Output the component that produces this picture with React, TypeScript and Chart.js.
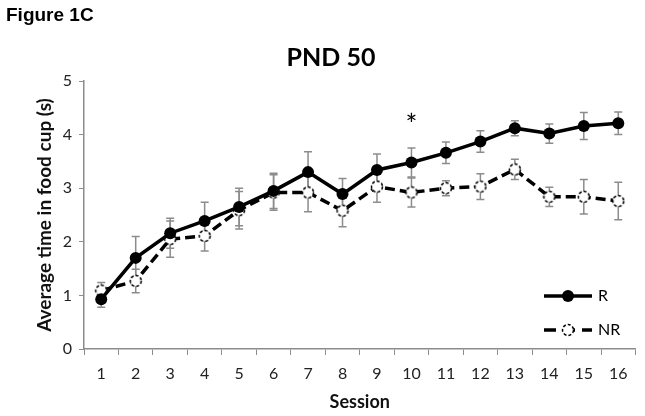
import React, { useEffect, useRef } from "react";
import { Chart, registerables } from "chart.js";

Chart.register(...registerables);

const sessions = ["1", "2", "3", "4", "5", "6", "7", "8", "9", "10", "11", "12", "13", "14", "15", "16"];
const rMean = [0.93, 1.7, 2.16, 2.39, 2.65, 2.95, 3.3, 2.89, 3.34, 3.48, 3.66, 3.87, 4.12, 4.02, 4.16, 4.21];
const rErr = [0.15, 0.4, 0.28, 0.35, 0.35, 0.33, 0.38, 0.29, 0.3, 0.27, 0.2, 0.2, 0.14, 0.18, 0.25, 0.21];
const nrMean = [1.09, 1.27, 2.05, 2.11, 2.59, 2.92, 2.92, 2.58, 3.03, 2.92, 3.0, 3.03, 3.35, 2.84, 2.84, 2.76];
const nrErr = [0.15, 0.22, 0.34, 0.28, 0.35, 0.33, 0.36, 0.3, 0.29, 0.27, 0.14, 0.24, 0.19, 0.18, 0.32, 0.35];
const seriesLabels = ["R", "NR"];
const significantSessions = ["10"];
const yMin = 0;
const yMax = 5;

const FONT = "Lato, 'Open Sans', sans-serif";

function makeOpenMarker(): HTMLCanvasElement {
  const c = document.createElement("canvas");
  c.width = 14;
  c.height = 14;
  const g = c.getContext("2d")!;
  g.fillStyle = "#ffffff";
  g.beginPath();
  g.arc(7, 7, 5.5, 0, Math.PI * 2);
  g.fill();
  g.strokeStyle = "#000";
  g.lineWidth = 1.5;
  g.setLineDash([3, 2]);
  g.beginPath();
  g.arc(7, 7, 5.5, 0, Math.PI * 2);
  g.stroke();
  return c;
}

export default function App() {
  const ref = useRef<HTMLCanvasElement | null>(null);
  useEffect(() => {
    if (!ref.current) return;
    const openMarker = makeOpenMarker();
    const errs = [rErr, nrErr];

    const errorBars = {
      id: "errorBars",
      beforeDatasetsDraw(chart: any) {
        const ctx = chart.ctx;
        const ys = chart.scales.y;
        ctx.save();
        ctx.strokeStyle = "#8c8c8c";
        ctx.lineWidth = 1.5;
        chart.data.datasets.forEach((ds: any, i: number) => {
          const meta = chart.getDatasetMeta(i);
          meta.data.forEach((el: any, j: number) => {
            const v = ds.data[j];
            const e = errs[i][j];
            const top = ys.getPixelForValue(v + e);
            const bot = ys.getPixelForValue(v - e);
            ctx.beginPath();
            ctx.moveTo(el.x, top);
            ctx.lineTo(el.x, bot);
            ctx.moveTo(el.x - 4, top);
            ctx.lineTo(el.x + 4, top);
            ctx.moveTo(el.x - 4, bot);
            ctx.lineTo(el.x + 4, bot);
            ctx.stroke();
          });
        });
        ctx.restore();
      },
    };

    const decor = {
      id: "decor",
      afterDraw(chart: any) {
        const ctx = chart.ctx;
        const xs = chart.scales.x;
        ctx.save();
        ctx.fillStyle = "#000";
        ctx.textBaseline = "middle";
        ctx.textAlign = "left";
        ctx.font = "bold 19px 'Liberation Sans', Arial, sans-serif";
        ctx.fillText("Figure 1C", 6, 16);
        ctx.textAlign = "center";
        ctx.font = `bold 25px ${FONT}`;
        ctx.fillText("PND 50", 331, 58);
        // significance markers
        ctx.font = `28px ${FONT}`;
        significantSessions.forEach((s) => {
          const idx = sessions.indexOf(s);
          const x = xs.getPixelForValue(idx);
          const top = Math.max(rMean[idx] + rErr[idx], nrMean[idx] + nrErr[idx]);
          const y = chart.scales.y.getPixelForValue(top) - 23;
          ctx.fillText("*", x, y + 1);
        });
        // legend
        const lx0 = 544;
        const lx1 = 592;
        const rowsY = [296, 330];
        chart.data.datasets.forEach((ds: any, i: number) => {
          const y = rowsY[i];
          ctx.strokeStyle = "#000";
          ctx.lineWidth = 3.5;
          ctx.setLineDash(ds.borderDash ? [12, 7] : []);
          ctx.beginPath();
          ctx.moveTo(lx0, y);
          ctx.lineTo(lx1, y);
          ctx.stroke();
          ctx.setLineDash([]);
          const cx = (lx0 + lx1) / 2;
          if (i === 0) {
            ctx.fillStyle = "#000";
            ctx.beginPath();
            ctx.arc(cx, y, 6, 0, Math.PI * 2);
            ctx.fill();
          } else {
            ctx.drawImage(openMarker, cx - 7, y - 7);
          }
          ctx.fillStyle = "#000";
          ctx.textAlign = "left";
          ctx.font = `16px ${FONT}`;
          ctx.fillText(ds.label, 598, y);
        });
        ctx.restore();
      },
    };

    const chart = new Chart(ref.current, {
      type: "line",
      data: {
        labels: sessions,
        datasets: [
          {
            label: seriesLabels[0],
            data: rMean,
            borderColor: "#000",
            backgroundColor: "#000",
            borderWidth: 3.5,
            pointRadius: 6,
            pointBackgroundColor: "#000",
            pointBorderColor: "#000",
            pointBorderWidth: 0,
            tension: 0,
          },
          {
            label: seriesLabels[1],
            data: nrMean,
            borderColor: "#000",
            backgroundColor: "#fff",
            borderWidth: 3.5,
            borderDash: [10, 5],
            pointStyle: openMarker,
            pointRadius: 6,
            tension: 0,
          },
        ],
      },
      options: {
        responsive: false,
        animation: false,
        layout: { padding: { top: 81, right: 1, left: 0, bottom: 0 } },
        plugins: {
          legend: { display: false },
          title: { display: false },
          tooltip: { enabled: false },
        },
        scales: {
          x: {
            type: "category",
            offset: true,
            grid: {
              display: true,
              offset: true,
              drawOnChartArea: false,
              drawTicks: true,
              tickLength: 6,
              color: "#8c8c8c",
            },
            border: { color: "#8c8c8c", width: 1.5 },
            ticks: { color: "#222", font: { family: FONT, size: 16 }, padding: 9, maxRotation: 0, autoSkip: false },
            title: {
              display: true,
              text: "Session",
              color: "#111",
              font: { family: FONT, size: 18, weight: "bold" },
              padding: { top: 0, bottom: 3 },
            },
            afterFit(scale: any) {
              scale.height = 67;
            },
          },
          y: {
            min: yMin,
            max: yMax,
            grid: {
              display: true,
              drawOnChartArea: false,
              drawTicks: true,
              tickLength: 5,
              color: "#8c8c8c",
            },
            border: { color: "#8c8c8c", width: 1.5 },
            ticks: { stepSize: 1, color: "#222", font: { family: FONT, size: 16 }, padding: 7 },
            title: {
              display: true,
              text: "Average time in food cup (s)",
              color: "#111",
              font: { family: FONT, size: 19, weight: "bold" },
              padding: { top: 33, bottom: 0 },
            },
            afterFit(scale: any) {
              scale.width = 84;
            },
          },
        },
      },
      plugins: [errorBars, decor],
    });
    return () => chart.destroy();
  }, []);

  return (
    <div style={{ position: "absolute", left: 0, top: 0, width: 645, height: 416, background: "#fff" }}>
      <canvas ref={ref} width={645} height={416} />
    </div>
  );
}
